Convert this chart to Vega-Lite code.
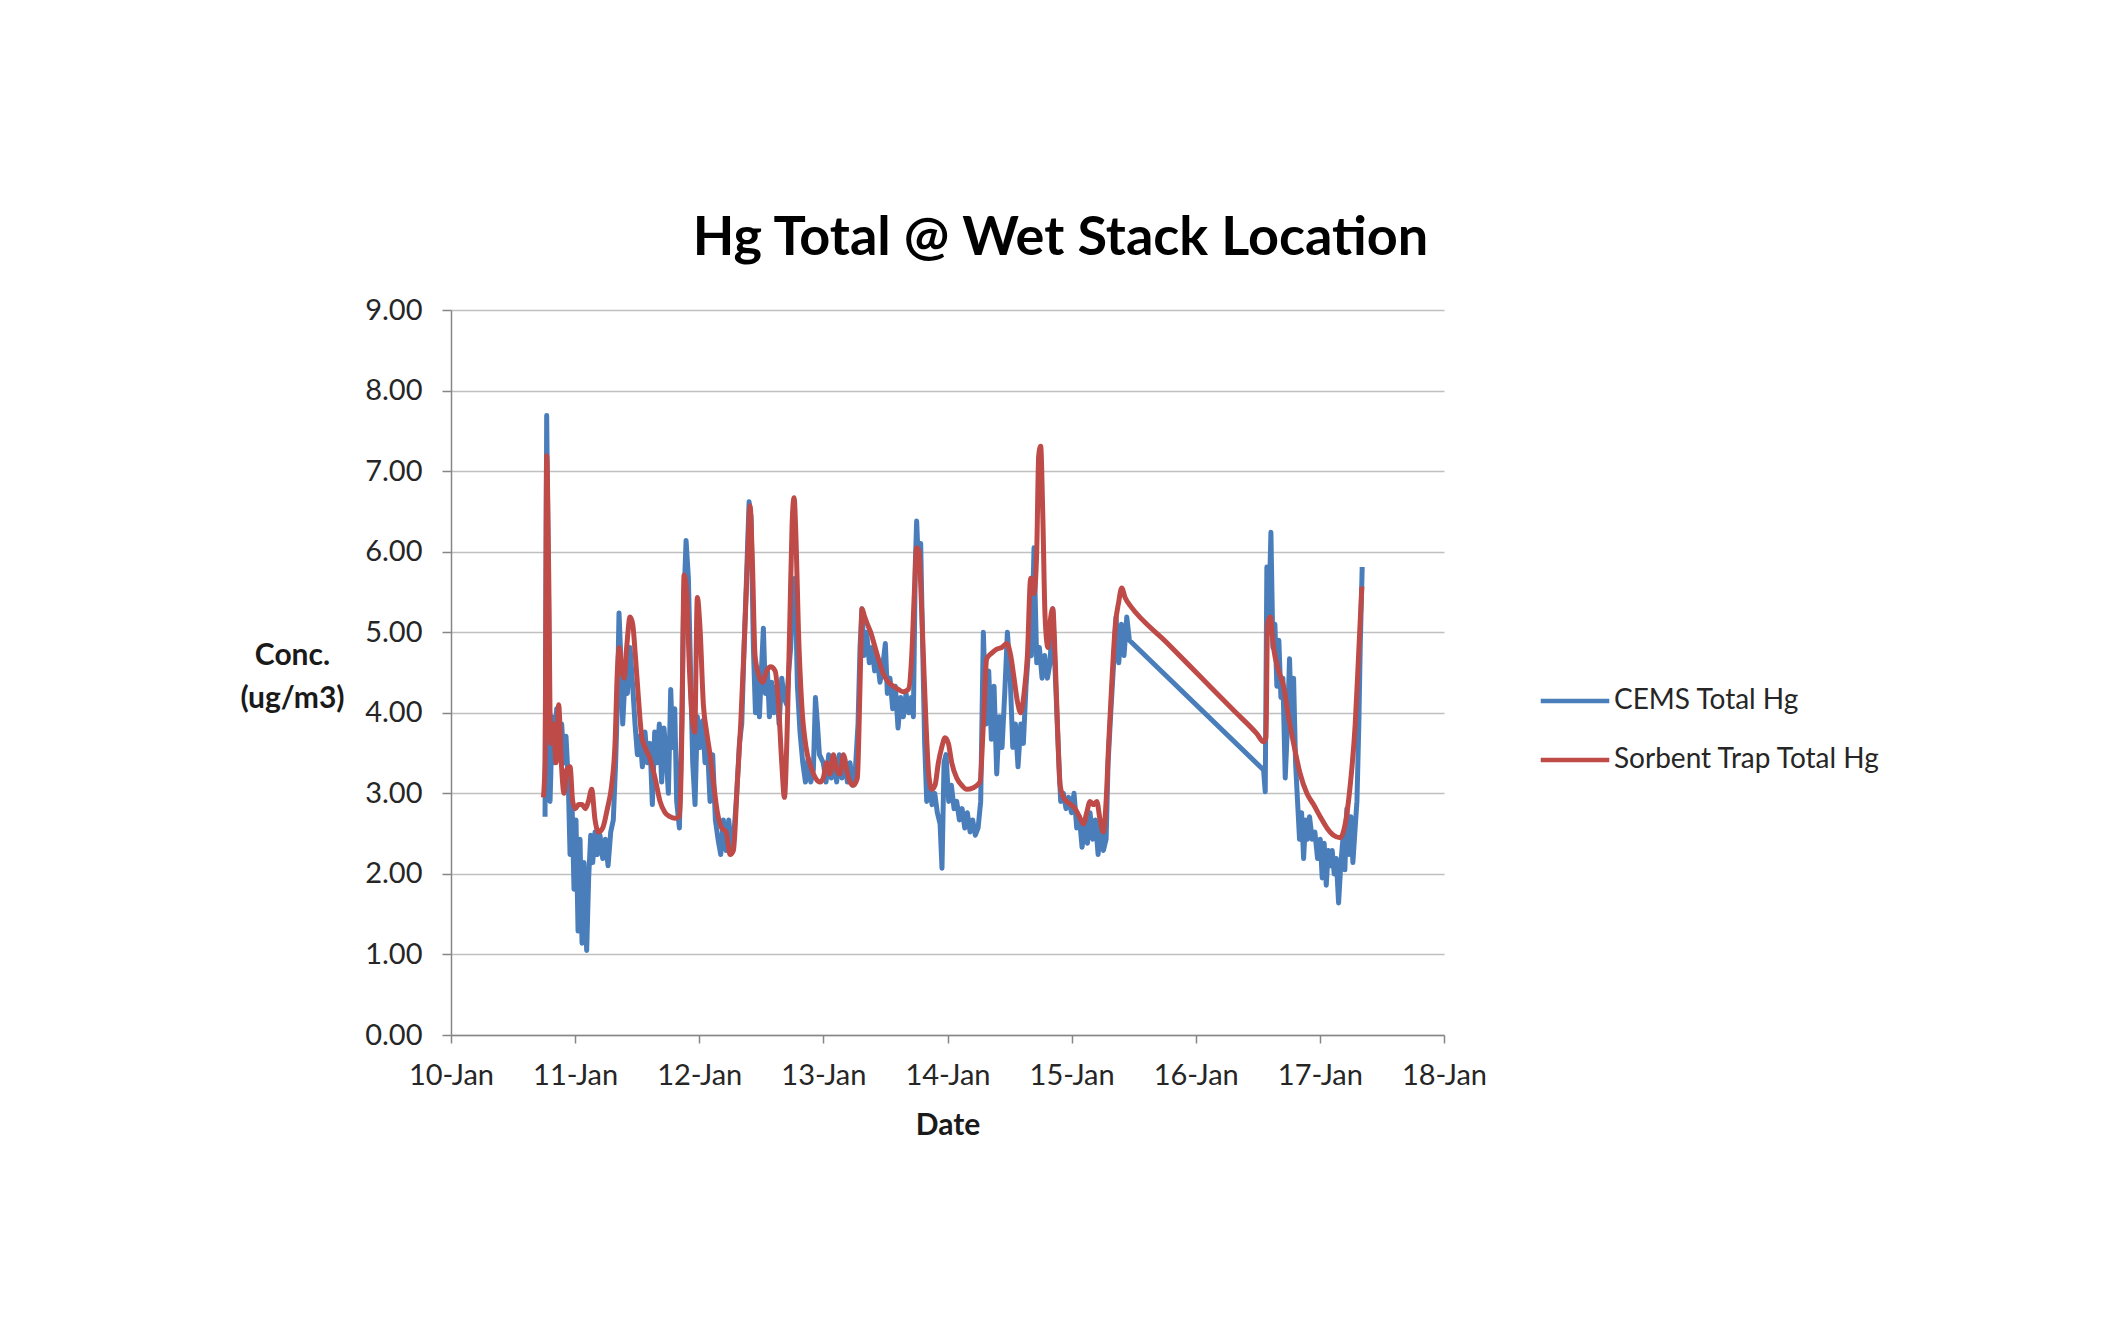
{
  "$schema": "https://vega.github.io/schema/vega-lite/v6.json",
  "width": 993,
  "height": 725,
  "autosize": "none",
  "padding": {"left": 451, "top": 310, "right": 666, "bottom": 300},
  "background": "white",
  "title": {
    "text": "Hg Total @ Wet Stack Location",
    "font": "Lato",
    "fontSize": 54,
    "fontWeight": "bold",
    "color": "#000000",
    "anchor": "middle",
    "frame": "group",
    "dx": 113,
    "offset": 30
  },
  "config": {
    "view": {"stroke": null},
    "axis": {
      "domainColor": "#868686",
      "domainWidth": 1.5,
      "tickColor": "#868686",
      "tickWidth": 1.5,
      "gridColor": "#c0c0c0",
      "gridWidth": 1.5,
      "labelFont": "Lato",
      "labelFontSize": 29,
      "labelColor": "#262626",
      "titleFont": "Lato",
      "titleFontSize": 30,
      "titleFontWeight": "bold",
      "titleColor": "#1a1a1a"
    }
  },
  "data": {
    "values": [
      {"date": "2013-01-10T18:11", "series": "CEMS Total Hg", "conc": 2.71},
      {"date": "2013-01-10T18:30", "series": "CEMS Total Hg", "conc": 7.69},
      {"date": "2013-01-10T18:53", "series": "CEMS Total Hg", "conc": 5.29},
      {"date": "2013-01-10T19:09", "series": "CEMS Total Hg", "conc": 2.90},
      {"date": "2013-01-10T19:36", "series": "CEMS Total Hg", "conc": 3.95},
      {"date": "2013-01-10T19:59", "series": "CEMS Total Hg", "conc": 3.38},
      {"date": "2013-01-10T20:26", "series": "CEMS Total Hg", "conc": 4.05},
      {"date": "2013-01-10T20:53", "series": "CEMS Total Hg", "conc": 3.57},
      {"date": "2013-01-10T21:24", "series": "CEMS Total Hg", "conc": 3.86},
      {"date": "2013-01-10T21:51", "series": "CEMS Total Hg", "conc": 3.38},
      {"date": "2013-01-10T22:14", "series": "CEMS Total Hg", "conc": 3.71},
      {"date": "2013-01-10T22:41", "series": "CEMS Total Hg", "conc": 3.14},
      {"date": "2013-01-10T23:01", "series": "CEMS Total Hg", "conc": 2.24},
      {"date": "2013-01-10T23:24", "series": "CEMS Total Hg", "conc": 2.90},
      {"date": "2013-01-10T23:47", "series": "CEMS Total Hg", "conc": 1.81},
      {"date": "2013-01-11T00:10", "series": "CEMS Total Hg", "conc": 2.67},
      {"date": "2013-01-11T00:34", "series": "CEMS Total Hg", "conc": 1.29},
      {"date": "2013-01-11T00:57", "series": "CEMS Total Hg", "conc": 2.43},
      {"date": "2013-01-11T01:20", "series": "CEMS Total Hg", "conc": 1.14},
      {"date": "2013-01-11T01:43", "series": "CEMS Total Hg", "conc": 2.14},
      {"date": "2013-01-11T02:14", "series": "CEMS Total Hg", "conc": 1.05},
      {"date": "2013-01-11T02:37", "series": "CEMS Total Hg", "conc": 1.95},
      {"date": "2013-01-11T03:01", "series": "CEMS Total Hg", "conc": 2.48},
      {"date": "2013-01-11T03:24", "series": "CEMS Total Hg", "conc": 2.14},
      {"date": "2013-01-11T03:51", "series": "CEMS Total Hg", "conc": 2.52},
      {"date": "2013-01-11T04:18", "series": "CEMS Total Hg", "conc": 2.24},
      {"date": "2013-01-11T04:49", "series": "CEMS Total Hg", "conc": 2.48},
      {"date": "2013-01-11T05:20", "series": "CEMS Total Hg", "conc": 2.19},
      {"date": "2013-01-11T05:51", "series": "CEMS Total Hg", "conc": 2.43},
      {"date": "2013-01-11T06:22", "series": "CEMS Total Hg", "conc": 2.10},
      {"date": "2013-01-11T06:53", "series": "CEMS Total Hg", "conc": 2.52},
      {"date": "2013-01-11T07:23", "series": "CEMS Total Hg", "conc": 2.67},
      {"date": "2013-01-11T07:50", "series": "CEMS Total Hg", "conc": 3.38},
      {"date": "2013-01-11T08:10", "series": "CEMS Total Hg", "conc": 4.10},
      {"date": "2013-01-11T08:29", "series": "CEMS Total Hg", "conc": 5.24},
      {"date": "2013-01-11T08:49", "series": "CEMS Total Hg", "conc": 4.71},
      {"date": "2013-01-11T09:12", "series": "CEMS Total Hg", "conc": 3.86},
      {"date": "2013-01-11T09:39", "series": "CEMS Total Hg", "conc": 4.43},
      {"date": "2013-01-11T10:06", "series": "CEMS Total Hg", "conc": 4.24},
      {"date": "2013-01-11T10:37", "series": "CEMS Total Hg", "conc": 4.81},
      {"date": "2013-01-11T11:08", "series": "CEMS Total Hg", "conc": 4.33},
      {"date": "2013-01-11T11:35", "series": "CEMS Total Hg", "conc": 3.86},
      {"date": "2013-01-11T12:02", "series": "CEMS Total Hg", "conc": 3.48},
      {"date": "2013-01-11T12:33", "series": "CEMS Total Hg", "conc": 3.71},
      {"date": "2013-01-11T13:00", "series": "CEMS Total Hg", "conc": 3.33},
      {"date": "2013-01-11T13:31", "series": "CEMS Total Hg", "conc": 3.76},
      {"date": "2013-01-11T13:58", "series": "CEMS Total Hg", "conc": 3.38},
      {"date": "2013-01-11T14:29", "series": "CEMS Total Hg", "conc": 3.62},
      {"date": "2013-01-11T14:56", "series": "CEMS Total Hg", "conc": 2.86},
      {"date": "2013-01-11T15:23", "series": "CEMS Total Hg", "conc": 3.76},
      {"date": "2013-01-11T15:46", "series": "CEMS Total Hg", "conc": 3.38},
      {"date": "2013-01-11T16:17", "series": "CEMS Total Hg", "conc": 3.86},
      {"date": "2013-01-11T16:44", "series": "CEMS Total Hg", "conc": 3.14},
      {"date": "2013-01-11T17:11", "series": "CEMS Total Hg", "conc": 3.81},
      {"date": "2013-01-11T17:35", "series": "CEMS Total Hg", "conc": 3.48},
      {"date": "2013-01-11T18:02", "series": "CEMS Total Hg", "conc": 3.00},
      {"date": "2013-01-11T18:29", "series": "CEMS Total Hg", "conc": 4.29},
      {"date": "2013-01-11T18:52", "series": "CEMS Total Hg", "conc": 3.57},
      {"date": "2013-01-11T19:16", "series": "CEMS Total Hg", "conc": 4.05},
      {"date": "2013-01-11T19:38", "series": "CEMS Total Hg", "conc": 2.90},
      {"date": "2013-01-11T20:10", "series": "CEMS Total Hg", "conc": 2.57},
      {"date": "2013-01-11T20:37", "series": "CEMS Total Hg", "conc": 3.86},
      {"date": "2013-01-11T20:56", "series": "CEMS Total Hg", "conc": 5.19},
      {"date": "2013-01-11T21:27", "series": "CEMS Total Hg", "conc": 6.14},
      {"date": "2013-01-11T21:54", "series": "CEMS Total Hg", "conc": 5.67},
      {"date": "2013-01-11T22:21", "series": "CEMS Total Hg", "conc": 4.43},
      {"date": "2013-01-11T22:44", "series": "CEMS Total Hg", "conc": 3.38},
      {"date": "2013-01-11T23:11", "series": "CEMS Total Hg", "conc": 2.86},
      {"date": "2013-01-11T23:38", "series": "CEMS Total Hg", "conc": 3.95},
      {"date": "2013-01-12T00:10", "series": "CEMS Total Hg", "conc": 3.57},
      {"date": "2013-01-12T00:40", "series": "CEMS Total Hg", "conc": 3.90},
      {"date": "2013-01-12T01:07", "series": "CEMS Total Hg", "conc": 3.38},
      {"date": "2013-01-12T01:34", "series": "CEMS Total Hg", "conc": 3.62},
      {"date": "2013-01-12T02:05", "series": "CEMS Total Hg", "conc": 2.90},
      {"date": "2013-01-12T02:36", "series": "CEMS Total Hg", "conc": 3.48},
      {"date": "2013-01-12T03:07", "series": "CEMS Total Hg", "conc": 2.67},
      {"date": "2013-01-12T03:38", "series": "CEMS Total Hg", "conc": 2.43},
      {"date": "2013-01-12T04:09", "series": "CEMS Total Hg", "conc": 2.24},
      {"date": "2013-01-12T04:40", "series": "CEMS Total Hg", "conc": 2.67},
      {"date": "2013-01-12T05:11", "series": "CEMS Total Hg", "conc": 2.29},
      {"date": "2013-01-12T05:42", "series": "CEMS Total Hg", "conc": 2.67},
      {"date": "2013-01-12T06:13", "series": "CEMS Total Hg", "conc": 2.33},
      {"date": "2013-01-12T06:44", "series": "CEMS Total Hg", "conc": 2.52},
      {"date": "2013-01-12T07:15", "series": "CEMS Total Hg", "conc": 3.00},
      {"date": "2013-01-12T07:46", "series": "CEMS Total Hg", "conc": 3.62},
      {"date": "2013-01-12T08:13", "series": "CEMS Total Hg", "conc": 3.86},
      {"date": "2013-01-12T08:40", "series": "CEMS Total Hg", "conc": 4.81},
      {"date": "2013-01-12T09:11", "series": "CEMS Total Hg", "conc": 5.76},
      {"date": "2013-01-12T09:38", "series": "CEMS Total Hg", "conc": 6.62},
      {"date": "2013-01-12T10:01", "series": "CEMS Total Hg", "conc": 6.43},
      {"date": "2013-01-12T10:28", "series": "CEMS Total Hg", "conc": 4.81},
      {"date": "2013-01-12T10:52", "series": "CEMS Total Hg", "conc": 4.00},
      {"date": "2013-01-12T11:14", "series": "CEMS Total Hg", "conc": 4.43},
      {"date": "2013-01-12T11:38", "series": "CEMS Total Hg", "conc": 3.95},
      {"date": "2013-01-12T12:01", "series": "CEMS Total Hg", "conc": 4.52},
      {"date": "2013-01-12T12:24", "series": "CEMS Total Hg", "conc": 5.05},
      {"date": "2013-01-12T12:47", "series": "CEMS Total Hg", "conc": 4.24},
      {"date": "2013-01-12T13:11", "series": "CEMS Total Hg", "conc": 4.52},
      {"date": "2013-01-12T13:34", "series": "CEMS Total Hg", "conc": 3.95},
      {"date": "2013-01-12T14:01", "series": "CEMS Total Hg", "conc": 4.38},
      {"date": "2013-01-12T14:28", "series": "CEMS Total Hg", "conc": 4.00},
      {"date": "2013-01-12T14:59", "series": "CEMS Total Hg", "conc": 4.33},
      {"date": "2013-01-12T15:26", "series": "CEMS Total Hg", "conc": 3.86},
      {"date": "2013-01-12T15:57", "series": "CEMS Total Hg", "conc": 4.43},
      {"date": "2013-01-12T16:24", "series": "CEMS Total Hg", "conc": 4.19},
      {"date": "2013-01-12T16:55", "series": "CEMS Total Hg", "conc": 4.10},
      {"date": "2013-01-12T17:18", "series": "CEMS Total Hg", "conc": 4.52},
      {"date": "2013-01-12T17:41", "series": "CEMS Total Hg", "conc": 4.81},
      {"date": "2013-01-12T18:05", "series": "CEMS Total Hg", "conc": 5.48},
      {"date": "2013-01-12T18:32", "series": "CEMS Total Hg", "conc": 5.67},
      {"date": "2013-01-12T18:59", "series": "CEMS Total Hg", "conc": 4.33},
      {"date": "2013-01-12T19:29", "series": "CEMS Total Hg", "conc": 3.76},
      {"date": "2013-01-12T20:01", "series": "CEMS Total Hg", "conc": 3.38},
      {"date": "2013-01-12T20:32", "series": "CEMS Total Hg", "conc": 3.14},
      {"date": "2013-01-12T21:02", "series": "CEMS Total Hg", "conc": 3.43},
      {"date": "2013-01-12T21:34", "series": "CEMS Total Hg", "conc": 3.14},
      {"date": "2013-01-12T22:04", "series": "CEMS Total Hg", "conc": 3.29},
      {"date": "2013-01-12T22:28", "series": "CEMS Total Hg", "conc": 4.19},
      {"date": "2013-01-12T22:51", "series": "CEMS Total Hg", "conc": 3.86},
      {"date": "2013-01-12T23:14", "series": "CEMS Total Hg", "conc": 3.48},
      {"date": "2013-01-12T23:59", "series": "CEMS Total Hg", "conc": 3.38},
      {"date": "2013-01-13T00:31", "series": "CEMS Total Hg", "conc": 3.14},
      {"date": "2013-01-13T01:02", "series": "CEMS Total Hg", "conc": 3.48},
      {"date": "2013-01-13T01:32", "series": "CEMS Total Hg", "conc": 3.19},
      {"date": "2013-01-13T02:04", "series": "CEMS Total Hg", "conc": 3.43},
      {"date": "2013-01-13T02:34", "series": "CEMS Total Hg", "conc": 3.14},
      {"date": "2013-01-13T03:05", "series": "CEMS Total Hg", "conc": 3.48},
      {"date": "2013-01-13T03:36", "series": "CEMS Total Hg", "conc": 3.19},
      {"date": "2013-01-13T04:07", "series": "CEMS Total Hg", "conc": 3.43},
      {"date": "2013-01-13T04:38", "series": "CEMS Total Hg", "conc": 3.14},
      {"date": "2013-01-13T05:09", "series": "CEMS Total Hg", "conc": 3.38},
      {"date": "2013-01-13T05:40", "series": "CEMS Total Hg", "conc": 3.10},
      {"date": "2013-01-13T06:11", "series": "CEMS Total Hg", "conc": 3.29},
      {"date": "2013-01-13T06:42", "series": "CEMS Total Hg", "conc": 3.86},
      {"date": "2013-01-13T07:05", "series": "CEMS Total Hg", "conc": 4.81},
      {"date": "2013-01-13T07:28", "series": "CEMS Total Hg", "conc": 5.29},
      {"date": "2013-01-13T07:52", "series": "CEMS Total Hg", "conc": 4.71},
      {"date": "2013-01-13T08:22", "series": "CEMS Total Hg", "conc": 5.00},
      {"date": "2013-01-13T08:53", "series": "CEMS Total Hg", "conc": 4.62},
      {"date": "2013-01-13T09:25", "series": "CEMS Total Hg", "conc": 4.81},
      {"date": "2013-01-13T09:55", "series": "CEMS Total Hg", "conc": 4.52},
      {"date": "2013-01-13T10:26", "series": "CEMS Total Hg", "conc": 4.67},
      {"date": "2013-01-13T10:57", "series": "CEMS Total Hg", "conc": 4.38},
      {"date": "2013-01-13T11:28", "series": "CEMS Total Hg", "conc": 4.57},
      {"date": "2013-01-13T11:59", "series": "CEMS Total Hg", "conc": 4.86},
      {"date": "2013-01-13T12:22", "series": "CEMS Total Hg", "conc": 4.24},
      {"date": "2013-01-13T12:53", "series": "CEMS Total Hg", "conc": 4.43},
      {"date": "2013-01-13T13:24", "series": "CEMS Total Hg", "conc": 4.05},
      {"date": "2013-01-13T13:55", "series": "CEMS Total Hg", "conc": 4.33},
      {"date": "2013-01-13T14:26", "series": "CEMS Total Hg", "conc": 3.81},
      {"date": "2013-01-13T14:57", "series": "CEMS Total Hg", "conc": 4.19},
      {"date": "2013-01-13T15:28", "series": "CEMS Total Hg", "conc": 3.95},
      {"date": "2013-01-13T15:59", "series": "CEMS Total Hg", "conc": 4.24},
      {"date": "2013-01-13T16:30", "series": "CEMS Total Hg", "conc": 4.00},
      {"date": "2013-01-13T17:01", "series": "CEMS Total Hg", "conc": 4.19},
      {"date": "2013-01-13T17:24", "series": "CEMS Total Hg", "conc": 3.95},
      {"date": "2013-01-13T17:47", "series": "CEMS Total Hg", "conc": 5.86},
      {"date": "2013-01-13T18:02", "series": "CEMS Total Hg", "conc": 6.38},
      {"date": "2013-01-13T18:26", "series": "CEMS Total Hg", "conc": 5.76},
      {"date": "2013-01-13T18:49", "series": "CEMS Total Hg", "conc": 6.10},
      {"date": "2013-01-13T19:12", "series": "CEMS Total Hg", "conc": 4.81},
      {"date": "2013-01-13T19:35", "series": "CEMS Total Hg", "conc": 3.62},
      {"date": "2013-01-13T19:59", "series": "CEMS Total Hg", "conc": 2.90},
      {"date": "2013-01-13T20:29", "series": "CEMS Total Hg", "conc": 3.10},
      {"date": "2013-01-13T21:01", "series": "CEMS Total Hg", "conc": 2.86},
      {"date": "2013-01-13T21:32", "series": "CEMS Total Hg", "conc": 3.00},
      {"date": "2013-01-13T22:02", "series": "CEMS Total Hg", "conc": 2.76},
      {"date": "2013-01-13T22:34", "series": "CEMS Total Hg", "conc": 2.62},
      {"date": "2013-01-13T22:56", "series": "CEMS Total Hg", "conc": 2.07},
      {"date": "2013-01-13T23:20", "series": "CEMS Total Hg", "conc": 3.38},
      {"date": "2013-01-13T23:43", "series": "CEMS Total Hg", "conc": 3.48},
      {"date": "2013-01-14T00:14", "series": "CEMS Total Hg", "conc": 2.90},
      {"date": "2013-01-14T00:45", "series": "CEMS Total Hg", "conc": 3.10},
      {"date": "2013-01-14T01:16", "series": "CEMS Total Hg", "conc": 2.81},
      {"date": "2013-01-14T01:47", "series": "CEMS Total Hg", "conc": 2.90},
      {"date": "2013-01-14T02:18", "series": "CEMS Total Hg", "conc": 2.67},
      {"date": "2013-01-14T02:49", "series": "CEMS Total Hg", "conc": 2.81},
      {"date": "2013-01-14T03:20", "series": "CEMS Total Hg", "conc": 2.57},
      {"date": "2013-01-14T03:50", "series": "CEMS Total Hg", "conc": 2.76},
      {"date": "2013-01-14T04:22", "series": "CEMS Total Hg", "conc": 2.52},
      {"date": "2013-01-14T04:52", "series": "CEMS Total Hg", "conc": 2.67},
      {"date": "2013-01-14T05:23", "series": "CEMS Total Hg", "conc": 2.48},
      {"date": "2013-01-14T05:55", "series": "CEMS Total Hg", "conc": 2.57},
      {"date": "2013-01-14T06:25", "series": "CEMS Total Hg", "conc": 2.90},
      {"date": "2013-01-14T06:56", "series": "CEMS Total Hg", "conc": 5.00},
      {"date": "2013-01-14T07:27", "series": "CEMS Total Hg", "conc": 3.86},
      {"date": "2013-01-14T07:58", "series": "CEMS Total Hg", "conc": 4.52},
      {"date": "2013-01-14T08:29", "series": "CEMS Total Hg", "conc": 3.67},
      {"date": "2013-01-14T09:00", "series": "CEMS Total Hg", "conc": 4.33},
      {"date": "2013-01-14T09:31", "series": "CEMS Total Hg", "conc": 3.24},
      {"date": "2013-01-14T10:02", "series": "CEMS Total Hg", "conc": 3.95},
      {"date": "2013-01-14T10:33", "series": "CEMS Total Hg", "conc": 3.57},
      {"date": "2013-01-14T11:04", "series": "CEMS Total Hg", "conc": 4.24},
      {"date": "2013-01-14T11:35", "series": "CEMS Total Hg", "conc": 5.00},
      {"date": "2013-01-14T12:05", "series": "CEMS Total Hg", "conc": 4.52},
      {"date": "2013-01-14T12:37", "series": "CEMS Total Hg", "conc": 3.57},
      {"date": "2013-01-14T13:08", "series": "CEMS Total Hg", "conc": 3.86},
      {"date": "2013-01-14T13:38", "series": "CEMS Total Hg", "conc": 3.33},
      {"date": "2013-01-14T14:10", "series": "CEMS Total Hg", "conc": 3.86},
      {"date": "2013-01-14T14:40", "series": "CEMS Total Hg", "conc": 3.62},
      {"date": "2013-01-14T15:11", "series": "CEMS Total Hg", "conc": 4.33},
      {"date": "2013-01-14T15:42", "series": "CEMS Total Hg", "conc": 4.81},
      {"date": "2013-01-14T16:13", "series": "CEMS Total Hg", "conc": 4.71},
      {"date": "2013-01-14T16:44", "series": "CEMS Total Hg", "conc": 6.05},
      {"date": "2013-01-14T17:15", "series": "CEMS Total Hg", "conc": 4.62},
      {"date": "2013-01-14T17:46", "series": "CEMS Total Hg", "conc": 4.81},
      {"date": "2013-01-14T18:17", "series": "CEMS Total Hg", "conc": 4.43},
      {"date": "2013-01-14T18:48", "series": "CEMS Total Hg", "conc": 4.71},
      {"date": "2013-01-14T19:19", "series": "CEMS Total Hg", "conc": 4.43},
      {"date": "2013-01-14T19:50", "series": "CEMS Total Hg", "conc": 4.62},
      {"date": "2013-01-14T20:21", "series": "CEMS Total Hg", "conc": 5.29},
      {"date": "2013-01-14T20:52", "series": "CEMS Total Hg", "conc": 4.43},
      {"date": "2013-01-14T21:23", "series": "CEMS Total Hg", "conc": 3.62},
      {"date": "2013-01-14T21:53", "series": "CEMS Total Hg", "conc": 2.90},
      {"date": "2013-01-14T22:25", "series": "CEMS Total Hg", "conc": 3.00},
      {"date": "2013-01-14T22:55", "series": "CEMS Total Hg", "conc": 2.81},
      {"date": "2013-01-14T23:26", "series": "CEMS Total Hg", "conc": 2.95},
      {"date": "2013-01-14T23:58", "series": "CEMS Total Hg", "conc": 2.76},
      {"date": "2013-01-15T00:28", "series": "CEMS Total Hg", "conc": 3.00},
      {"date": "2013-01-15T00:59", "series": "CEMS Total Hg", "conc": 2.57},
      {"date": "2013-01-15T01:30", "series": "CEMS Total Hg", "conc": 2.71},
      {"date": "2013-01-15T02:01", "series": "CEMS Total Hg", "conc": 2.33},
      {"date": "2013-01-15T02:32", "series": "CEMS Total Hg", "conc": 2.62},
      {"date": "2013-01-15T03:03", "series": "CEMS Total Hg", "conc": 2.38},
      {"date": "2013-01-15T03:34", "series": "CEMS Total Hg", "conc": 2.76},
      {"date": "2013-01-15T04:05", "series": "CEMS Total Hg", "conc": 2.43},
      {"date": "2013-01-15T04:36", "series": "CEMS Total Hg", "conc": 2.67},
      {"date": "2013-01-15T05:07", "series": "CEMS Total Hg", "conc": 2.24},
      {"date": "2013-01-15T05:38", "series": "CEMS Total Hg", "conc": 2.62},
      {"date": "2013-01-15T06:08", "series": "CEMS Total Hg", "conc": 2.29},
      {"date": "2013-01-15T06:40", "series": "CEMS Total Hg", "conc": 2.43},
      {"date": "2013-01-15T07:03", "series": "CEMS Total Hg", "conc": 3.38},
      {"date": "2013-01-15T07:34", "series": "CEMS Total Hg", "conc": 4.00},
      {"date": "2013-01-15T08:05", "series": "CEMS Total Hg", "conc": 4.57},
      {"date": "2013-01-15T08:35", "series": "CEMS Total Hg", "conc": 5.19},
      {"date": "2013-01-15T09:07", "series": "CEMS Total Hg", "conc": 4.62},
      {"date": "2013-01-15T09:38", "series": "CEMS Total Hg", "conc": 5.10},
      {"date": "2013-01-15T10:08", "series": "CEMS Total Hg", "conc": 4.71},
      {"date": "2013-01-15T10:40", "series": "CEMS Total Hg", "conc": 5.19},
      {"date": "2013-01-15T11:10", "series": "CEMS Total Hg", "conc": 4.90},
      {"date": "2013-01-16T13:07", "series": "CEMS Total Hg", "conc": 3.29},
      {"date": "2013-01-16T13:26", "series": "CEMS Total Hg", "conc": 3.02},
      {"date": "2013-01-16T13:45", "series": "CEMS Total Hg", "conc": 5.81},
      {"date": "2013-01-16T14:08", "series": "CEMS Total Hg", "conc": 5.19},
      {"date": "2013-01-16T14:32", "series": "CEMS Total Hg", "conc": 6.24},
      {"date": "2013-01-16T14:55", "series": "CEMS Total Hg", "conc": 4.81},
      {"date": "2013-01-16T15:18", "series": "CEMS Total Hg", "conc": 5.10},
      {"date": "2013-01-16T15:41", "series": "CEMS Total Hg", "conc": 4.33},
      {"date": "2013-01-16T16:04", "series": "CEMS Total Hg", "conc": 4.90},
      {"date": "2013-01-16T16:28", "series": "CEMS Total Hg", "conc": 4.19},
      {"date": "2013-01-16T16:51", "series": "CEMS Total Hg", "conc": 4.43},
      {"date": "2013-01-16T17:18", "series": "CEMS Total Hg", "conc": 3.19},
      {"date": "2013-01-16T17:45", "series": "CEMS Total Hg", "conc": 3.86},
      {"date": "2013-01-16T18:08", "series": "CEMS Total Hg", "conc": 4.67},
      {"date": "2013-01-16T18:31", "series": "CEMS Total Hg", "conc": 3.86},
      {"date": "2013-01-16T18:55", "series": "CEMS Total Hg", "conc": 4.43},
      {"date": "2013-01-16T19:18", "series": "CEMS Total Hg", "conc": 3.38},
      {"date": "2013-01-16T19:41", "series": "CEMS Total Hg", "conc": 2.90},
      {"date": "2013-01-16T20:04", "series": "CEMS Total Hg", "conc": 2.43},
      {"date": "2013-01-16T20:28", "series": "CEMS Total Hg", "conc": 2.76},
      {"date": "2013-01-16T20:51", "series": "CEMS Total Hg", "conc": 2.19},
      {"date": "2013-01-16T21:14", "series": "CEMS Total Hg", "conc": 2.67},
      {"date": "2013-01-16T21:37", "series": "CEMS Total Hg", "conc": 2.43},
      {"date": "2013-01-16T22:00", "series": "CEMS Total Hg", "conc": 2.71},
      {"date": "2013-01-16T22:31", "series": "CEMS Total Hg", "conc": 2.43},
      {"date": "2013-01-16T23:02", "series": "CEMS Total Hg", "conc": 2.52},
      {"date": "2013-01-16T23:33", "series": "CEMS Total Hg", "conc": 2.19},
      {"date": "2013-01-17T00:04", "series": "CEMS Total Hg", "conc": 2.43},
      {"date": "2013-01-17T00:27", "series": "CEMS Total Hg", "conc": 1.95},
      {"date": "2013-01-17T00:50", "series": "CEMS Total Hg", "conc": 2.38},
      {"date": "2013-01-17T01:14", "series": "CEMS Total Hg", "conc": 1.86},
      {"date": "2013-01-17T01:37", "series": "CEMS Total Hg", "conc": 2.29},
      {"date": "2013-01-17T02:00", "series": "CEMS Total Hg", "conc": 2.10},
      {"date": "2013-01-17T02:23", "series": "CEMS Total Hg", "conc": 2.29},
      {"date": "2013-01-17T02:46", "series": "CEMS Total Hg", "conc": 2.00},
      {"date": "2013-01-17T03:10", "series": "CEMS Total Hg", "conc": 2.19},
      {"date": "2013-01-17T03:37", "series": "CEMS Total Hg", "conc": 1.64},
      {"date": "2013-01-17T04:04", "series": "CEMS Total Hg", "conc": 2.14},
      {"date": "2013-01-17T04:27", "series": "CEMS Total Hg", "conc": 2.43},
      {"date": "2013-01-17T04:50", "series": "CEMS Total Hg", "conc": 2.05},
      {"date": "2013-01-17T05:13", "series": "CEMS Total Hg", "conc": 2.81},
      {"date": "2013-01-17T05:37", "series": "CEMS Total Hg", "conc": 2.24},
      {"date": "2013-01-17T06:00", "series": "CEMS Total Hg", "conc": 2.71},
      {"date": "2013-01-17T06:23", "series": "CEMS Total Hg", "conc": 2.14},
      {"date": "2013-01-17T06:46", "series": "CEMS Total Hg", "conc": 2.52},
      {"date": "2013-01-17T07:10", "series": "CEMS Total Hg", "conc": 2.90},
      {"date": "2013-01-17T07:32", "series": "CEMS Total Hg", "conc": 3.86},
      {"date": "2013-01-17T07:48", "series": "CEMS Total Hg", "conc": 4.81},
      {"date": "2013-01-17T08:11", "series": "CEMS Total Hg", "conc": 5.81},

      {"date": "2013-01-10T17:52", "series": "Sorbent Trap Total Hg", "conc": 2.95},
      {"date": "2013-01-10T18:11", "series": "Sorbent Trap Total Hg", "conc": 3.38},
      {"date": "2013-01-10T18:30", "series": "Sorbent Trap Total Hg", "conc": 7.19},
      {"date": "2013-01-10T18:53", "series": "Sorbent Trap Total Hg", "conc": 5.76},
      {"date": "2013-01-10T19:16", "series": "Sorbent Trap Total Hg", "conc": 3.62},
      {"date": "2013-01-10T19:47", "series": "Sorbent Trap Total Hg", "conc": 3.86},
      {"date": "2013-01-10T20:19", "series": "Sorbent Trap Total Hg", "conc": 3.38},
      {"date": "2013-01-10T20:49", "series": "Sorbent Trap Total Hg", "conc": 4.10},
      {"date": "2013-01-10T21:20", "series": "Sorbent Trap Total Hg", "conc": 3.38},
      {"date": "2013-01-10T21:51", "series": "Sorbent Trap Total Hg", "conc": 3.00},
      {"date": "2013-01-10T22:22", "series": "Sorbent Trap Total Hg", "conc": 3.29},
      {"date": "2013-01-10T23:01", "series": "Sorbent Trap Total Hg", "conc": 3.33},
      {"date": "2013-01-10T23:32", "series": "Sorbent Trap Total Hg", "conc": 2.90},
      {"date": "2013-01-11T00:03", "series": "Sorbent Trap Total Hg", "conc": 2.81},
      {"date": "2013-01-11T00:41", "series": "Sorbent Trap Total Hg", "conc": 2.86},
      {"date": "2013-01-11T01:20", "series": "Sorbent Trap Total Hg", "conc": 2.86},
      {"date": "2013-01-11T01:59", "series": "Sorbent Trap Total Hg", "conc": 2.81},
      {"date": "2013-01-11T02:34", "series": "Sorbent Trap Total Hg", "conc": 2.90},
      {"date": "2013-01-11T03:12", "series": "Sorbent Trap Total Hg", "conc": 3.05},
      {"date": "2013-01-11T03:51", "series": "Sorbent Trap Total Hg", "conc": 2.67},
      {"date": "2013-01-11T04:29", "series": "Sorbent Trap Total Hg", "conc": 2.52},
      {"date": "2013-01-11T05:20", "series": "Sorbent Trap Total Hg", "conc": 2.57},
      {"date": "2013-01-11T06:14", "series": "Sorbent Trap Total Hg", "conc": 2.81},
      {"date": "2013-01-11T07:04", "series": "Sorbent Trap Total Hg", "conc": 3.10},
      {"date": "2013-01-11T07:43", "series": "Sorbent Trap Total Hg", "conc": 3.62},
      {"date": "2013-01-11T08:10", "series": "Sorbent Trap Total Hg", "conc": 4.52},
      {"date": "2013-01-11T08:33", "series": "Sorbent Trap Total Hg", "conc": 4.81},
      {"date": "2013-01-11T09:01", "series": "Sorbent Trap Total Hg", "conc": 4.52},
      {"date": "2013-01-11T09:28", "series": "Sorbent Trap Total Hg", "conc": 4.43},
      {"date": "2013-01-11T09:58", "series": "Sorbent Trap Total Hg", "conc": 4.81},
      {"date": "2013-01-11T10:37", "series": "Sorbent Trap Total Hg", "conc": 5.19},
      {"date": "2013-01-11T11:08", "series": "Sorbent Trap Total Hg", "conc": 5.10},
      {"date": "2013-01-11T11:39", "series": "Sorbent Trap Total Hg", "conc": 4.71},
      {"date": "2013-01-11T12:14", "series": "Sorbent Trap Total Hg", "conc": 4.19},
      {"date": "2013-01-11T12:52", "series": "Sorbent Trap Total Hg", "conc": 3.71},
      {"date": "2013-01-11T13:31", "series": "Sorbent Trap Total Hg", "conc": 3.57},
      {"date": "2013-01-11T14:29", "series": "Sorbent Trap Total Hg", "conc": 3.43},
      {"date": "2013-01-11T15:27", "series": "Sorbent Trap Total Hg", "conc": 3.19},
      {"date": "2013-01-11T16:25", "series": "Sorbent Trap Total Hg", "conc": 2.90},
      {"date": "2013-01-11T17:23", "series": "Sorbent Trap Total Hg", "conc": 2.76},
      {"date": "2013-01-11T18:21", "series": "Sorbent Trap Total Hg", "conc": 2.71},
      {"date": "2013-01-11T19:19", "series": "Sorbent Trap Total Hg", "conc": 2.69},
      {"date": "2013-01-11T20:10", "series": "Sorbent Trap Total Hg", "conc": 2.71},
      {"date": "2013-01-11T20:40", "series": "Sorbent Trap Total Hg", "conc": 3.86},
      {"date": "2013-01-11T21:04", "series": "Sorbent Trap Total Hg", "conc": 5.71},
      {"date": "2013-01-11T21:35", "series": "Sorbent Trap Total Hg", "conc": 5.48},
      {"date": "2013-01-11T22:05", "series": "Sorbent Trap Total Hg", "conc": 4.57},
      {"date": "2013-01-11T22:37", "series": "Sorbent Trap Total Hg", "conc": 3.95},
      {"date": "2013-01-11T23:07", "series": "Sorbent Trap Total Hg", "conc": 3.76},
      {"date": "2013-01-11T23:38", "series": "Sorbent Trap Total Hg", "conc": 5.43},
      {"date": "2013-01-12T00:09", "series": "Sorbent Trap Total Hg", "conc": 5.05},
      {"date": "2013-01-12T00:48", "series": "Sorbent Trap Total Hg", "conc": 4.10},
      {"date": "2013-01-12T01:26", "series": "Sorbent Trap Total Hg", "conc": 3.76},
      {"date": "2013-01-12T02:05", "series": "Sorbent Trap Total Hg", "conc": 3.48},
      {"date": "2013-01-12T02:44", "series": "Sorbent Trap Total Hg", "conc": 3.14},
      {"date": "2013-01-12T03:31", "series": "Sorbent Trap Total Hg", "conc": 2.76},
      {"date": "2013-01-12T04:20", "series": "Sorbent Trap Total Hg", "conc": 2.57},
      {"date": "2013-01-12T05:11", "series": "Sorbent Trap Total Hg", "conc": 2.52},
      {"date": "2013-01-12T05:58", "series": "Sorbent Trap Total Hg", "conc": 2.24},
      {"date": "2013-01-12T06:36", "series": "Sorbent Trap Total Hg", "conc": 2.29},
      {"date": "2013-01-12T07:22", "series": "Sorbent Trap Total Hg", "conc": 3.14},
      {"date": "2013-01-12T08:01", "series": "Sorbent Trap Total Hg", "conc": 3.86},
      {"date": "2013-01-12T08:40", "series": "Sorbent Trap Total Hg", "conc": 4.81},
      {"date": "2013-01-12T09:19", "series": "Sorbent Trap Total Hg", "conc": 5.86},
      {"date": "2013-01-12T09:49", "series": "Sorbent Trap Total Hg", "conc": 6.57},
      {"date": "2013-01-12T10:17", "series": "Sorbent Trap Total Hg", "conc": 5.86},
      {"date": "2013-01-12T10:47", "series": "Sorbent Trap Total Hg", "conc": 4.71},
      {"date": "2013-01-12T11:26", "series": "Sorbent Trap Total Hg", "conc": 4.48},
      {"date": "2013-01-12T12:16", "series": "Sorbent Trap Total Hg", "conc": 4.38},
      {"date": "2013-01-12T13:03", "series": "Sorbent Trap Total Hg", "conc": 4.52},
      {"date": "2013-01-12T13:49", "series": "Sorbent Trap Total Hg", "conc": 4.57},
      {"date": "2013-01-12T14:40", "series": "Sorbent Trap Total Hg", "conc": 4.52},
      {"date": "2013-01-12T15:18", "series": "Sorbent Trap Total Hg", "conc": 4.14},
      {"date": "2013-01-12T15:57", "series": "Sorbent Trap Total Hg", "conc": 3.38},
      {"date": "2013-01-12T16:28", "series": "Sorbent Trap Total Hg", "conc": 2.95},
      {"date": "2013-01-12T17:02", "series": "Sorbent Trap Total Hg", "conc": 3.86},
      {"date": "2013-01-12T17:34", "series": "Sorbent Trap Total Hg", "conc": 5.29},
      {"date": "2013-01-12T17:57", "series": "Sorbent Trap Total Hg", "conc": 6.33},
      {"date": "2013-01-12T18:20", "series": "Sorbent Trap Total Hg", "conc": 6.67},
      {"date": "2013-01-12T18:43", "series": "Sorbent Trap Total Hg", "conc": 6.14},
      {"date": "2013-01-12T19:10", "series": "Sorbent Trap Total Hg", "conc": 5.05},
      {"date": "2013-01-12T19:49", "series": "Sorbent Trap Total Hg", "conc": 4.10},
      {"date": "2013-01-12T20:39", "series": "Sorbent Trap Total Hg", "conc": 3.57},
      {"date": "2013-01-12T21:34", "series": "Sorbent Trap Total Hg", "conc": 3.33},
      {"date": "2013-01-12T22:28", "series": "Sorbent Trap Total Hg", "conc": 3.19},
      {"date": "2013-01-12T23:22", "series": "Sorbent Trap Total Hg", "conc": 3.14},
      {"date": "2013-01-12T23:59", "series": "Sorbent Trap Total Hg", "conc": 3.19},
      {"date": "2013-01-13T00:38", "series": "Sorbent Trap Total Hg", "conc": 3.38},
      {"date": "2013-01-13T01:17", "series": "Sorbent Trap Total Hg", "conc": 3.24},
      {"date": "2013-01-13T01:56", "series": "Sorbent Trap Total Hg", "conc": 3.48},
      {"date": "2013-01-13T02:34", "series": "Sorbent Trap Total Hg", "conc": 3.29},
      {"date": "2013-01-13T03:13", "series": "Sorbent Trap Total Hg", "conc": 3.24},
      {"date": "2013-01-13T03:52", "series": "Sorbent Trap Total Hg", "conc": 3.48},
      {"date": "2013-01-13T04:31", "series": "Sorbent Trap Total Hg", "conc": 3.29},
      {"date": "2013-01-13T05:09", "series": "Sorbent Trap Total Hg", "conc": 3.14},
      {"date": "2013-01-13T05:47", "series": "Sorbent Trap Total Hg", "conc": 3.10},
      {"date": "2013-01-13T06:34", "series": "Sorbent Trap Total Hg", "conc": 3.19},
      {"date": "2013-01-13T07:05", "series": "Sorbent Trap Total Hg", "conc": 4.33},
      {"date": "2013-01-13T07:28", "series": "Sorbent Trap Total Hg", "conc": 5.29},
      {"date": "2013-01-13T07:59", "series": "Sorbent Trap Total Hg", "conc": 5.19},
      {"date": "2013-01-13T08:30", "series": "Sorbent Trap Total Hg", "conc": 5.10},
      {"date": "2013-01-13T09:09", "series": "Sorbent Trap Total Hg", "conc": 5.00},
      {"date": "2013-01-13T09:47", "series": "Sorbent Trap Total Hg", "conc": 4.86},
      {"date": "2013-01-13T10:38", "series": "Sorbent Trap Total Hg", "conc": 4.67},
      {"date": "2013-01-13T11:36", "series": "Sorbent Trap Total Hg", "conc": 4.48},
      {"date": "2013-01-13T12:34", "series": "Sorbent Trap Total Hg", "conc": 4.38},
      {"date": "2013-01-13T13:32", "series": "Sorbent Trap Total Hg", "conc": 4.33},
      {"date": "2013-01-13T14:30", "series": "Sorbent Trap Total Hg", "conc": 4.29},
      {"date": "2013-01-13T15:28", "series": "Sorbent Trap Total Hg", "conc": 4.26},
      {"date": "2013-01-13T16:26", "series": "Sorbent Trap Total Hg", "conc": 4.29},
      {"date": "2013-01-13T17:05", "series": "Sorbent Trap Total Hg", "conc": 4.71},
      {"date": "2013-01-13T17:35", "series": "Sorbent Trap Total Hg", "conc": 5.48},
      {"date": "2013-01-13T18:02", "series": "Sorbent Trap Total Hg", "conc": 6.05},
      {"date": "2013-01-13T18:30", "series": "Sorbent Trap Total Hg", "conc": 6.00},
      {"date": "2013-01-13T18:53", "series": "Sorbent Trap Total Hg", "conc": 5.48},
      {"date": "2013-01-13T19:20", "series": "Sorbent Trap Total Hg", "conc": 4.71},
      {"date": "2013-01-13T19:51", "series": "Sorbent Trap Total Hg", "conc": 3.86},
      {"date": "2013-01-13T20:22", "series": "Sorbent Trap Total Hg", "conc": 3.24},
      {"date": "2013-01-13T20:57", "series": "Sorbent Trap Total Hg", "conc": 3.05},
      {"date": "2013-01-13T21:35", "series": "Sorbent Trap Total Hg", "conc": 3.10},
      {"date": "2013-01-13T22:14", "series": "Sorbent Trap Total Hg", "conc": 3.38},
      {"date": "2013-01-13T22:53", "series": "Sorbent Trap Total Hg", "conc": 3.57},
      {"date": "2013-01-13T23:31", "series": "Sorbent Trap Total Hg", "conc": 3.69},
      {"date": "2013-01-14T00:10", "series": "Sorbent Trap Total Hg", "conc": 3.62},
      {"date": "2013-01-14T00:49", "series": "Sorbent Trap Total Hg", "conc": 3.38},
      {"date": "2013-01-14T01:47", "series": "Sorbent Trap Total Hg", "conc": 3.19},
      {"date": "2013-01-14T02:45", "series": "Sorbent Trap Total Hg", "conc": 3.10},
      {"date": "2013-01-14T03:43", "series": "Sorbent Trap Total Hg", "conc": 3.05},
      {"date": "2013-01-14T05:00", "series": "Sorbent Trap Total Hg", "conc": 3.07},
      {"date": "2013-01-14T06:17", "series": "Sorbent Trap Total Hg", "conc": 3.14},
      {"date": "2013-01-14T06:56", "series": "Sorbent Trap Total Hg", "conc": 3.86},
      {"date": "2013-01-14T07:35", "series": "Sorbent Trap Total Hg", "conc": 4.67},
      {"date": "2013-01-14T08:33", "series": "Sorbent Trap Total Hg", "conc": 4.74},
      {"date": "2013-01-14T09:31", "series": "Sorbent Trap Total Hg", "conc": 4.79},
      {"date": "2013-01-14T10:29", "series": "Sorbent Trap Total Hg", "conc": 4.81},
      {"date": "2013-01-14T11:27", "series": "Sorbent Trap Total Hg", "conc": 4.86},
      {"date": "2013-01-14T12:13", "series": "Sorbent Trap Total Hg", "conc": 4.71},
      {"date": "2013-01-14T12:52", "series": "Sorbent Trap Total Hg", "conc": 4.43},
      {"date": "2013-01-14T13:31", "series": "Sorbent Trap Total Hg", "conc": 4.14},
      {"date": "2013-01-14T14:10", "series": "Sorbent Trap Total Hg", "conc": 4.00},
      {"date": "2013-01-14T14:48", "series": "Sorbent Trap Total Hg", "conc": 4.24},
      {"date": "2013-01-14T15:27", "series": "Sorbent Trap Total Hg", "conc": 4.71},
      {"date": "2013-01-14T16:05", "series": "Sorbent Trap Total Hg", "conc": 5.67},
      {"date": "2013-01-14T16:44", "series": "Sorbent Trap Total Hg", "conc": 5.48},
      {"date": "2013-01-14T17:15", "series": "Sorbent Trap Total Hg", "conc": 6.00},
      {"date": "2013-01-14T17:38", "series": "Sorbent Trap Total Hg", "conc": 7.19},
      {"date": "2013-01-14T18:01", "series": "Sorbent Trap Total Hg", "conc": 7.31},
      {"date": "2013-01-14T18:25", "series": "Sorbent Trap Total Hg", "conc": 6.48},
      {"date": "2013-01-14T18:52", "series": "Sorbent Trap Total Hg", "conc": 5.19},
      {"date": "2013-01-14T19:26", "series": "Sorbent Trap Total Hg", "conc": 4.81},
      {"date": "2013-01-14T19:58", "series": "Sorbent Trap Total Hg", "conc": 5.19},
      {"date": "2013-01-14T20:21", "series": "Sorbent Trap Total Hg", "conc": 5.29},
      {"date": "2013-01-14T20:48", "series": "Sorbent Trap Total Hg", "conc": 4.71},
      {"date": "2013-01-14T21:15", "series": "Sorbent Trap Total Hg", "conc": 3.86},
      {"date": "2013-01-14T21:46", "series": "Sorbent Trap Total Hg", "conc": 3.10},
      {"date": "2013-01-14T22:25", "series": "Sorbent Trap Total Hg", "conc": 2.95},
      {"date": "2013-01-14T23:03", "series": "Sorbent Trap Total Hg", "conc": 2.90},
      {"date": "2013-01-14T23:50", "series": "Sorbent Trap Total Hg", "conc": 2.86},
      {"date": "2013-01-15T00:40", "series": "Sorbent Trap Total Hg", "conc": 2.81},
      {"date": "2013-01-15T01:30", "series": "Sorbent Trap Total Hg", "conc": 2.71},
      {"date": "2013-01-15T02:17", "series": "Sorbent Trap Total Hg", "conc": 2.62},
      {"date": "2013-01-15T02:55", "series": "Sorbent Trap Total Hg", "conc": 2.76},
      {"date": "2013-01-15T03:34", "series": "Sorbent Trap Total Hg", "conc": 2.90},
      {"date": "2013-01-15T04:13", "series": "Sorbent Trap Total Hg", "conc": 2.86},
      {"date": "2013-01-15T04:52", "series": "Sorbent Trap Total Hg", "conc": 2.90},
      {"date": "2013-01-15T05:30", "series": "Sorbent Trap Total Hg", "conc": 2.67},
      {"date": "2013-01-15T06:08", "series": "Sorbent Trap Total Hg", "conc": 2.52},
      {"date": "2013-01-15T06:40", "series": "Sorbent Trap Total Hg", "conc": 2.90},
      {"date": "2013-01-15T07:10", "series": "Sorbent Trap Total Hg", "conc": 3.62},
      {"date": "2013-01-15T07:49", "series": "Sorbent Trap Total Hg", "conc": 4.43},
      {"date": "2013-01-15T08:28", "series": "Sorbent Trap Total Hg", "conc": 5.10},
      {"date": "2013-01-15T09:07", "series": "Sorbent Trap Total Hg", "conc": 5.38},
      {"date": "2013-01-15T09:41", "series": "Sorbent Trap Total Hg", "conc": 5.55},
      {"date": "2013-01-15T10:20", "series": "Sorbent Trap Total Hg", "conc": 5.43},
      {"date": "2013-01-15T10:59", "series": "Sorbent Trap Total Hg", "conc": 5.36},
      {"date": "2013-01-15T11:19", "series": "Sorbent Trap Total Hg", "conc": 5.33},
      {"date": "2013-01-15T18:25", "series": "Sorbent Trap Total Hg", "conc": 4.87},
      {"date": "2013-01-16T00:52", "series": "Sorbent Trap Total Hg", "conc": 4.45},
      {"date": "2013-01-16T07:19", "series": "Sorbent Trap Total Hg", "conc": 4.03},
      {"date": "2013-01-16T11:49", "series": "Sorbent Trap Total Hg", "conc": 3.74},
      {"date": "2013-01-16T13:07", "series": "Sorbent Trap Total Hg", "conc": 3.64},
      {"date": "2013-01-16T13:34", "series": "Sorbent Trap Total Hg", "conc": 3.69},
      {"date": "2013-01-16T13:53", "series": "Sorbent Trap Total Hg", "conc": 5.10},
      {"date": "2013-01-16T14:24", "series": "Sorbent Trap Total Hg", "conc": 5.19},
      {"date": "2013-01-16T15:02", "series": "Sorbent Trap Total Hg", "conc": 4.81},
      {"date": "2013-01-16T16:01", "series": "Sorbent Trap Total Hg", "conc": 4.52},
      {"date": "2013-01-16T16:59", "series": "Sorbent Trap Total Hg", "conc": 4.33},
      {"date": "2013-01-16T17:56", "series": "Sorbent Trap Total Hg", "conc": 3.95},
      {"date": "2013-01-16T18:55", "series": "Sorbent Trap Total Hg", "conc": 3.62},
      {"date": "2013-01-16T20:12", "series": "Sorbent Trap Total Hg", "conc": 3.24},
      {"date": "2013-01-16T21:29", "series": "Sorbent Trap Total Hg", "conc": 3.00},
      {"date": "2013-01-16T22:47", "series": "Sorbent Trap Total Hg", "conc": 2.86},
      {"date": "2013-01-17T00:04", "series": "Sorbent Trap Total Hg", "conc": 2.71},
      {"date": "2013-01-17T01:22", "series": "Sorbent Trap Total Hg", "conc": 2.57},
      {"date": "2013-01-17T02:38", "series": "Sorbent Trap Total Hg", "conc": 2.48},
      {"date": "2013-01-17T03:56", "series": "Sorbent Trap Total Hg", "conc": 2.45},
      {"date": "2013-01-17T04:54", "series": "Sorbent Trap Total Hg", "conc": 2.62},
      {"date": "2013-01-17T05:52", "series": "Sorbent Trap Total Hg", "conc": 3.10},
      {"date": "2013-01-17T06:50", "series": "Sorbent Trap Total Hg", "conc": 3.86},
      {"date": "2013-01-17T07:29", "series": "Sorbent Trap Total Hg", "conc": 4.71},
      {"date": "2013-01-17T08:07", "series": "Sorbent Trap Total Hg", "conc": 5.57}
    ]
  },
  "encoding": {
    "x": {
      "field": "date",
      "type": "temporal",
      "scale": {
        "domain": [
          {"year": 2013, "month": 1, "date": 10},
          {"year": 2013, "month": 1, "date": 18}
        ]
      },
      "axis": {
        "values": [
          {"year": 2013, "month": 1, "date": 10},
          {"year": 2013, "month": 1, "date": 11},
          {"year": 2013, "month": 1, "date": 12},
          {"year": 2013, "month": 1, "date": 13},
          {"year": 2013, "month": 1, "date": 14},
          {"year": 2013, "month": 1, "date": 15},
          {"year": 2013, "month": 1, "date": 16},
          {"year": 2013, "month": 1, "date": 17},
          {"year": 2013, "month": 1, "date": 18}
        ],
        "format": "%d-%b",
        "title": "Date",
        "grid": false,
        "tickSize": 8,
        "labelPadding": 18,
        "labelFlush": false,
        "labelOverlap": false,
        "titleY": 90,
        "titleBaseline": "middle"
      }
    },
    "y": {
      "field": "conc",
      "type": "quantitative",
      "scale": {"domain": [0, 9], "nice": false, "zero": true},
      "axis": {
        "values": [0, 1, 2, 3, 4, 5, 6, 7, 8, 9],
        "format": ".2f",
        "title": ["Conc.", "(ug/m3)"],
        "titleAngle": 0,
        "titleX": -159,
        "titleY": 330,
        "titleAlign": "center",
        "titleBaseline": "top",
        "titleLineHeight": 43,
        "grid": true,
        "tickSize": 9,
        "labelPadding": 20
      }
    },
    "color": {
      "field": "series",
      "type": "nominal",
      "scale": {
        "domain": ["CEMS Total Hg", "Sorbent Trap Total Hg"],
        "range": ["#4a7ebb", "#be4b48"]
      },
      "legend": {
        "orient": "none",
        "legendX": 1087,
        "legendY": 354,
        "title": null,
        "symbolType": "stroke",
        "symbolSize": 4700,
        "symbolStrokeWidth": 4.5,
        "labelFont": "Lato",
        "labelFontSize": 28,
        "labelColor": "#262626",
        "labelLimit": 0,
        "labelOffset": 2,
        "rowPadding": 8
      }
    }
  },
  "layer": [
    {
      "transform": [{"filter": "datum.series === 'CEMS Total Hg'"}],
      "mark": {"type": "line", "strokeWidth": 5, "strokeJoin": "round"}
    },
    {
      "transform": [{"filter": "datum.series === 'Sorbent Trap Total Hg'"}],
      "mark": {"type": "line", "strokeWidth": 5, "interpolate": "monotone", "strokeJoin": "round"}
    }
  ]
}
